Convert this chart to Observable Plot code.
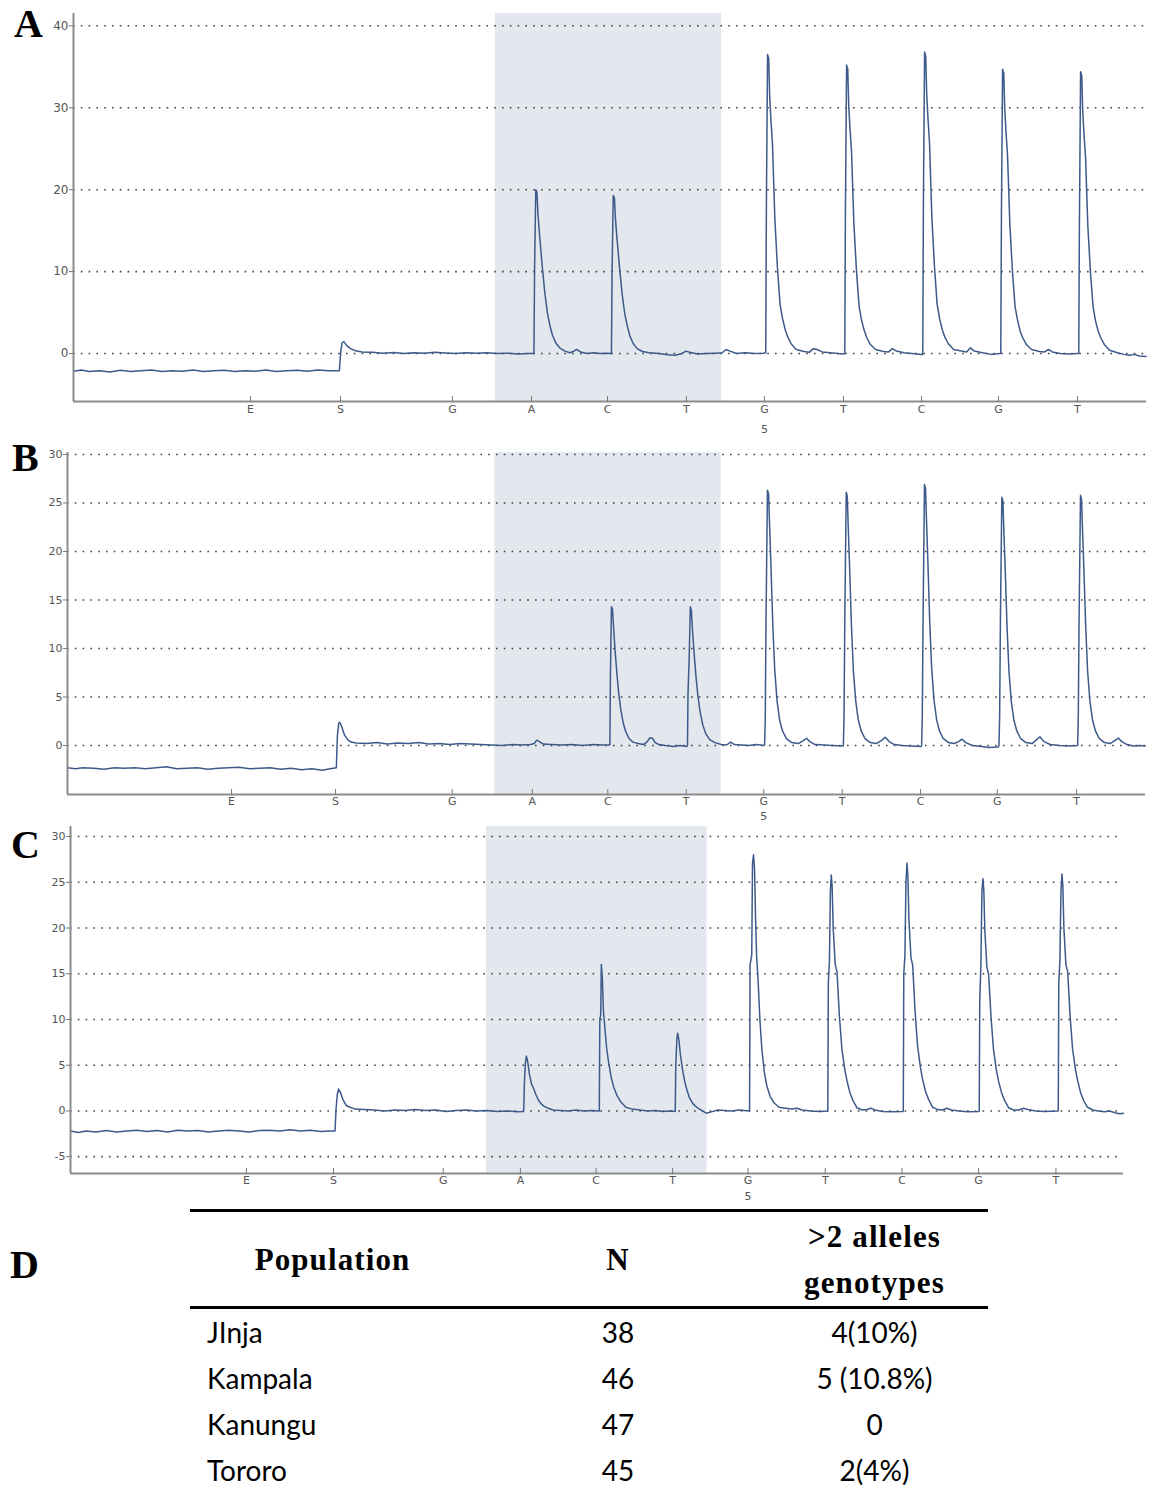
<!DOCTYPE html>
<html><head><meta charset="utf-8">
<script src="https://cdn.jsdelivr.net/npm/d3@7"></script>
<script src="https://cdn.jsdelivr.net/npm/@observablehq/plot@0.6"></script>
<style>
body{margin:0;background:#fff;}
#root{position:relative;width:1155px;height:1490px;overflow:hidden;}
.panel{position:absolute;left:0;width:1155px;}
.panel svg{display:block;overflow:visible;}
.letter{position:absolute;font-family:"Liberation Serif",serif;font-weight:bold;font-size:40px;line-height:1.15;color:#000;}
#tbl{position:absolute;left:190px;top:1209px;width:798px;}
#tbl table{border-collapse:collapse;width:798px;table-layout:fixed;}
#tbl thead tr{border-top:3px solid #000;border-bottom:3px solid #000;}
#tbl th{font-family:"Liberation Serif",serif;font-weight:bold;font-size:31px;letter-spacing:1.1px;height:92px;padding:2px 0 0 0;white-space:pre-line;line-height:46px;box-sizing:content-box;}
#tbl td{font-family:Lato,"Open Sans",sans-serif;font-size:28px;line-height:34px;height:46px;padding:0;text-align:center;}
#tbl td.name{text-align:left;padding-left:17px;}
</style></head><body>
<div id="root">
  <div id="pA" class="panel" style="top:0px"></div>
  <div id="pB" class="panel" style="top:440px"></div>
  <div id="pC" class="panel" style="top:822px"></div>
  <div class="letter" style="left:14px;top:1px">A</div>
  <div class="letter" style="left:12px;top:435px">B</div>
  <div class="letter" style="left:11px;top:822px">C</div>
  <div class="letter" style="left:10px;top:1242px">D</div>
  <div id="tbl"></div>
</div>
<script>
// ---- data ----
const dispLabels = ["E","S","G","A","C","T","G","T","C","G","T"];
const ticksA = [136.2,205.4,291.5,352.3,410.8,471.5,531.5,592.3,652.3,711.5,772.3];
const ticksB = [126.2,206.2,295.9,357.5,415.6,475.9,535.6,595.9,656.2,715.2,776.2];
const ticksC = [137.8,206.0,291.9,352.4,411.7,471.6,530.7,591.2,651.3,711.3,771.9];
const shadeA = [324.6,498.5];
const shadeB = [328.7,502.8];
const shadeC = [325.8,498.6];
const yTicksA = [0,10,20,30,40];
const yTicksB = [0,5,10,15,20,25,30];
const yTicksC = [-5,0,5,10,15,20,25,30];

const traceA = [[0,-2.15],[6,-2.0],[12,-2.2],[20,-2.1],[28,-2.25],[36,-2.05],[44,-2.2],[52,-2.1],[60,-2.0],[68,-2.2],[76,-2.1],[84,-2.15],[92,-2.0],[100,-2.2],[108,-2.1],[116,-2.05],[124,-2.2],[132,-2.1],[140,-2.15],[148,-2.0],[156,-2.2],[164,-2.1],[172,-2.05],[180,-2.15],[188,-2.0],[196,-2.1],[204.5,-2.1],
[205.6,0.3],[206.6,1.3],[208,1.45],[210,1.0],[213,0.6],[217,0.35],[222,0.2],
[230,0.15],[238,0.05],[246,0.12],[254,0.0],[262,0.1],[270,0.05],[278,0.15],[286,0.08],[294,0.0],[302,0.1],[310,0.05],[318,0.1],[326,0.0],[334,0.05],[342,-0.05],[350,0.0],
[354.2,0.0],[354.7,10.5],[355.6,20.0],[356.5,19.7],[357.3,17],[358.5,14.5],[360.5,10.8],[362.5,7.5],[364.5,5.0],[366.5,3.4],[368.5,2.2],[371,1.3],[374,0.7],[378,0.3],
[382,0.1],[385,0.3],[387,0.5],[390,0.2],[395,0.0],[400,0.1],[405,0.0],[410,0.05],
[413.8,0.0],[414.3,10],[415.2,19.3],[416.1,19.0],[416.9,16.4],[418.1,14],[420.1,10.4],[422.1,7.2],[424.1,4.8],[426.1,3.3],[428.1,2.1],[430.6,1.2],[433.6,0.6],[437.6,0.25],
[443,0.1],[450,0.0],[457,-0.15],[463,-0.2],[468,0.0],[471,0.3],[474,0.15],[480,-0.05],[487,0.0],[494,0.05],[499,0.1],[502,0.5],[505,0.3],[510,0.0],[517,0.1],[524,0.0],[531,0.05],
[532.5,0.1],[533.0,18],[533.9,36.5],[534.8,36.0],[535.5,31.5],[536.5,28.5],[537.7,25.5],[539.5,16.5],[541.5,10.5],[543.5,6.0],[545.5,4.2],[547.5,2.9],[549.5,2.0],[552,1.2],[556,0.5],[562,0.25],
[566,0.15],[569,0.6],[572,0.5],[576,0.2],[582,0.1],[588,0.0],[592.5,-0.05],
[593.3,0.0],[593.8,17.5],[594.7,35.2],[595.6,34.7],[596.3,30.4],[597.3,27.5],[598.5,24.6],[600.3,15.9],[602.3,10.1],[604.3,5.8],[606.3,4.0],[608.3,2.8],[610.3,1.9],[613,1.1],[617,0.5],[623,0.25],
[627,0.2],[630,0.6],[633,0.3],[639,0.1],[645,0.0],[652.5,-0.1],
[653.3,-0.1],[653.8,19],[654.7,36.8],[655.6,36.2],[656.3,31.8],[657.3,28.7],[658.5,25.7],[660.3,16.6],[662.3,10.6],[664.3,6.1],[666.3,4.2],[668.3,2.9],[670.3,2.0],[673,1.2],[677,0.5],[683,0.3],
[687,0.2],[690,0.7],[693,0.3],[699,0.1],[706,-0.1],[712.5,0.0],
[713.3,0.0],[713.8,17],[714.7,34.7],[715.6,34.2],[716.3,30],[717.3,27.1],[718.5,24.2],[720.3,15.7],[722.3,10.0],[724.3,5.7],[726.3,4.0],[728.3,2.7],[730.3,1.9],[733,1.1],[737,0.5],[743,0.25],
[747,0.2],[750,0.5],[753,0.2],[759,0.0],[766,-0.05],[772.5,0.0],
[773.3,0.0],[773.8,16],[774.7,34.4],[775.6,33.9],[776.3,29.7],[777.3,26.8],[778.5,24.0],[780.3,15.5],[782.3,9.9],[784.3,5.7],[786.3,3.9],[788.3,2.7],[790.3,1.9],[793,1.1],[797,0.4],[803,0.1],
[808,-0.1],[812,-0.2],[816,-0.1],[820,-0.3],[825,-0.35]];

const traceB = [[0,-2.3],[6,-2.4],[12,-2.3],[20,-2.35],[28,-2.45],[36,-2.3],[44,-2.35],[52,-2.3],[60,-2.4],[68,-2.3],[76,-2.2],[84,-2.4],[92,-2.35],[100,-2.3],[108,-2.45],[116,-2.35],[124,-2.3],[132,-2.25],[140,-2.4],[148,-2.35],[156,-2.3],[164,-2.45],[172,-2.35],[180,-2.5],[188,-2.4],[196,-2.55],[202,-2.4],[206.8,-2.3],
[207.6,1.0],[208.6,2.3],[209.4,2.4],[211,1.9],[213,1.1],[215.5,0.6],[218,0.35],[222,0.25],
[230,0.2],[238,0.3],[246,0.15],[254,0.25],[262,0.2],[270,0.3],[278,0.15],[286,0.2],[294,0.1],[302,0.2],[310,0.15],[318,0.1],[326,0.05],[334,0.0],[342,0.1],[350,0.05],[356,0.1],
[359,0.2],[361,0.55],[363,0.4],[366,0.15],[372,0.1],[380,0.05],[388,0.1],[396,0.0],[404,0.1],[412,0.05],[416.8,0.05],
[417.2,0.1],[417.6,7],[418.4,14.3],[419.2,14.1],[420,12.3],[421.2,9.8],[422.6,7.4],[424,5.4],[425.6,3.7],[427.5,2.3],[429.5,1.4],[432,0.7],[435,0.35],[439,0.2],
[443,0.1],[446,0.4],[448,0.8],[450,0.75],[452,0.3],[455,0.1],[460,0.0],[466,-0.1],[471,0.0],[476.5,-0.1],
[476.9,0.0],[477.3,5.4],[478.2,9],[479.1,14.3],[479.9,13.9],[480.8,11.8],[482,9.5],[483.5,7.0],[485,5.0],[486.7,3.4],[488.7,2.1],[491,1.2],[494,0.6],[498,0.3],
[503,0.1],[507,0.05],[510,0.35],[513,0.1],[518,0.05],[524,0.0],[530,0.1],[535.8,0.0],
[536.2,0.1],[536.7,2.5],[537.3,13],[538.4,26.3],[539.3,25.9],[540.1,22.5],[541.1,18.5],[542.5,12.5],[544,7.8],[545.8,4.6],[547.8,2.6],[550,1.5],[553,0.7],[557,0.3],
[562,0.2],[566,0.5],[568.5,0.75],[571,0.4],[575,0.1],[582,0.05],[588,0.0],[596.4,-0.05],
[596.8,0.0],[597.3,3],[597.9,13],[599.0,26.1],[599.8,25.7],[600.6,22.3],[601.6,18.4],[603,12.4],[604.5,7.7],[606.3,4.6],[608.3,2.6],[610.5,1.5],[613.5,0.7],[617.5,0.3],
[622,0.2],[626,0.5],[629,0.85],[632,0.4],[636,0.1],[642,0.0],[649,-0.05],[656.6,-0.1],
[657,0.0],[657.5,3],[658.1,13],[659.2,26.9],[660.0,26.5],[660.8,23],[661.8,19],[663.2,12.8],[664.7,8.0],[666.5,4.7],[668.5,2.7],[670.7,1.5],[673.7,0.7],[677.7,0.3],
[682,0.2],[685.5,0.4],[688,0.65],[691,0.3],[696,0.0],[703,-0.1],[709,-0.2],[716,-0.15],
[716.5,0.0],[717,3],[717.6,13],[718.7,25.6],[719.5,25.2],[720.3,21.9],[721.3,18.1],[722.7,12.2],[724.2,7.6],[726,4.5],[728,2.6],[730.2,1.5],[733.2,0.7],[737.2,0.3],
[742,0.2],[745.5,0.6],[748,0.9],[751,0.4],[756,0.1],[763,0.0],[770,-0.05],[776.6,0.0],
[777,0.0],[777.5,3],[778.1,13],[779.2,25.8],[780.0,25.4],[780.8,22],[781.8,18.2],[783.2,12.3],[784.7,7.6],[786.5,4.5],[788.5,2.6],[790.7,1.5],[793.7,0.7],[797.7,0.3],
[802,0.2],[805.5,0.5],[808.5,0.75],[811,0.4],[815,0.1],[820,-0.05],[825,0.0],[829,-0.05]];

const traceC = [[0,-2.2],[6,-2.35],[12,-2.2],[20,-2.3],[28,-2.15],[36,-2.3],[44,-2.2],[52,-2.1],[60,-2.25],[68,-2.15],[76,-2.3],[84,-2.1],[92,-2.2],[100,-2.15],[108,-2.3],[116,-2.2],[124,-2.1],[132,-2.2],[140,-2.3],[148,-2.15],[156,-2.1],[164,-2.2],[172,-2.05],[180,-2.2],[188,-2.1],[196,-2.25],[203,-2.2],[207.2,-2.2],
[208,0.2],[209,1.8],[210,2.4],[211.5,2.0],[213.5,1.2],[216,0.6],[219,0.4],[223,0.2],
[230,0.15],[238,0.1],[246,0.0],[254,0.1],[262,0.05],[270,0.15],[278,0.05],[286,0.1],[294,-0.05],[302,0.05],[310,0.1],[318,0.0],[326,0.05],[334,-0.05],[342,0.0],[350,-0.1],[354.8,-0.05],
[355.0,0.0],[355.5,3],[356.3,5.2],[357.1,6.0],[358,5.5],[359.5,4.0],[361,3.0],[362.6,2.5],[364.5,1.8],[366.5,1.2],[368.5,0.8],[371,0.5],[374,0.3],
[378,0.1],[384,0.05],[390,0.0],[396,0.1],[402,0.0],[408,0.05],[414.0,0.0],
[414.2,0.0],[414.6,10],[415.3,10.5],[415.8,16.0],[416.6,14.5],[417.4,11],[418.6,9],[420,6.8],[421.5,5.3],[423.5,3.7],[425.5,2.6],[428,1.7],[431,1.0],[435,0.4],[440,0.2],
[446,0.1],[452,0.0],[458,0.05],[464,-0.05],[470,0.0],[473.5,-0.05],
[473.7,0.0],[474.1,5],[475.0,8.0],[475.6,8.5],[476.5,7.8],[477.7,6.2],[479.3,4.6],[481,3.3],[483,2.2],[485,1.4],[487.5,0.8],[490.5,0.4],[494,0.1],[498,-0.25],
[502,-0.1],[507,0.1],[512,0.05],[518,0.0],[524,0.1],[531.8,0.0],
[531.9,0.0],[532.3,16],[533.6,17],[534.2,27],[535.0,28.0],[535.8,26.5],[536.6,21],[537.4,17],[538.5,14.5],[540,10],[541.5,6.8],[543.5,4.2],[545.5,2.7],[548,1.6],[551,0.9],[555,0.4],[560,0.3],
[565,0.2],[569,0.3],[573,0.1],[580,0.0],[587,-0.05],[593,0.0],
[593.2,0.0],[593.6,14],[594.5,16.5],[595.2,24],[595.9,25.8],[596.6,24.5],[597.4,20],[599,16],[600.4,15.2],[602.2,10.5],[604.2,6.8],[606.5,4.5],[608.2,3.3],[610.5,2.0],[613,1.1],[616,0.35],[620,0.1],
[624,0.15],[627,0.3],[630,0.1],[636,-0.05],[643,-0.1],[652.1,-0.05],
[652.3,0.0],[652.7,15],[653.6,17],[654.4,25],[655.2,27.1],[655.9,25.8],[656.7,21],[658.3,16.8],[659.7,15.9],[661.5,11],[663.5,7.1],[665.8,4.7],[667.5,3.4],[669.8,2.1],[672.3,1.2],[675.3,0.4],[679.3,0.15],
[683,0.1],[686.5,0.3],[690,0.1],[696,0.0],[703,-0.1],[711.6,-0.05],
[711.8,0.0],[712.2,12],[713.1,16],[713.9,24],[714.7,25.4],[715.4,24.1],[716.2,19.7],[717.8,15.7],[719.2,14.9],[721,10.3],[723,6.7],[725.3,4.4],[727,3.2],[729.3,2.0],[731.8,1.1],[734.8,0.35],[738.8,0.1],
[743,0.1],[746.3,0.3],[750,0.15],[756,0.0],[763,-0.05],[773.5,0.0],
[773.7,0.0],[774.1,14],[775.0,16.5],[775.8,24],[776.6,25.9],[777.3,24.6],[778.1,20],[779.7,16],[781.1,15.2],[782.9,10.5],[784.9,6.8],[787.2,4.5],[788.9,3.3],[791.2,2.0],[793.7,1.1],[796.7,0.4],[800.7,0.1],
[805,0.0],[810,-0.1],[814,0.0],[818,-0.2],[822,-0.3],[824.8,-0.25]];

const populations = ["JInja","Kampala","Kanungu","Tororo"];
const nValues = [38,46,47,45];
const multiAllele = ["4(10%)","5 (10.8%)","0","2(4%)"];
const headers = ["Population","N",">2 alleles\ngenotypes"];

// ---- panels ----
const panelSpecs = [
  {el:"pA", trace:traceA, ticks:ticksA, shade:shadeA, yTicks:yTicksA, xDomain:[0,825.4], yDomain:[-5.85,41.5],
   height:440, mt:13, mb:39, ml:73, mr:9, pad:4, fivedy:31, yfont:12},
  {el:"pB", trace:traceB, ticks:ticksB, shade:shadeB, yTicks:yTicksB, xDomain:[0,829.2], yDomain:[-5.05,30.2],
   height:382, mt:12, mb:28, ml:67, mr:10, pad:2.5, fivedy:25, yfont:11},
  {el:"pC", trace:traceC, ticks:ticksC, shade:shadeC, yTicks:yTicksC, xDomain:[0,824.8], yDomain:[-6.84,31.1],
   height:390, mt:4, mb:39, ml:70, mr:32, pad:2.5, fivedy:26, yfont:11}
];

for (const p of panelSpecs) {
  const pts = p.trace.map(([t, v]) => ({t, v}));
  const labelOf = new Map(p.ticks.map((t, i) => [t, dispLabels[i]]));
  const chart = Plot.plot({
    width: 1155, height: p.height,
    marginTop: p.mt, marginBottom: p.mb, marginLeft: p.ml, marginRight: p.mr,
    style: {fontFamily: "DejaVu Sans, sans-serif", fontSize: "11px", color: "#555", background: "transparent"},
    x: {domain: p.xDomain, label: null},
    y: {domain: p.yDomain, label: null},
    marks: [
      Plot.rect([p.shade], {x1: d => d[0], x2: d => d[1], fill: "#e3e8ef"}),
      Plot.ruleY(p.yTicks, {stroke: "#222", strokeOpacity: 0.85, strokeWidth: 1.6, strokeDasharray: "1.6,6.2"}),
      Plot.line(pts, {x: "t", y: "v", stroke: "#3d5a8a", strokeWidth: 1.5, curve: "linear"}),
      Plot.ruleX([p.xDomain[0]], {stroke: "#8c8c8c", strokeWidth: 2}),
      Plot.ruleY([p.yDomain[0]], {stroke: "#8c8c8c", strokeWidth: 2}),
      Plot.axisY(p.yTicks, {tickSize: 4, tickPadding: 1, fontSize: p.yfont, label: null, stroke: "#777", tickFormat: d => String(d)}),
      Plot.axisX(p.ticks, {tickSize: 6, dy: -5, tickFormat: () => "", label: null, stroke: "#777"}),
      Plot.axisX(p.ticks, {tickSize: 0, tickPadding: p.pad, tickFormat: d => labelOf.get(d), fontSize: 11, label: null}),
      Plot.text([{t: p.ticks[6], s: "5"}], {x: "t", text: "s", frameAnchor: "bottom", dy: p.fivedy, fontSize: 11, fill: "#555"})
    ]
  });
  document.getElementById(p.el).appendChild(chart);
}

// ---- table ----
const tbl = document.createElement("table");
const thead = tbl.createTHead();
const hr = thead.insertRow();
const colW = [285, 286, 227];
headers.forEach((h, i) => { const th = document.createElement("th"); th.textContent = h; th.style.width = colW[i] + "px"; hr.appendChild(th); });
const tb = tbl.createTBody();
populations.forEach((name, i) => {
  const r = tb.insertRow();
  const c0 = r.insertCell(); c0.textContent = name; c0.className = "name";
  const c1 = r.insertCell(); c1.textContent = nValues[i];
  const c2 = r.insertCell(); c2.textContent = multiAllele[i];
});
document.getElementById("tbl").appendChild(tbl);
</script>
</body></html>
